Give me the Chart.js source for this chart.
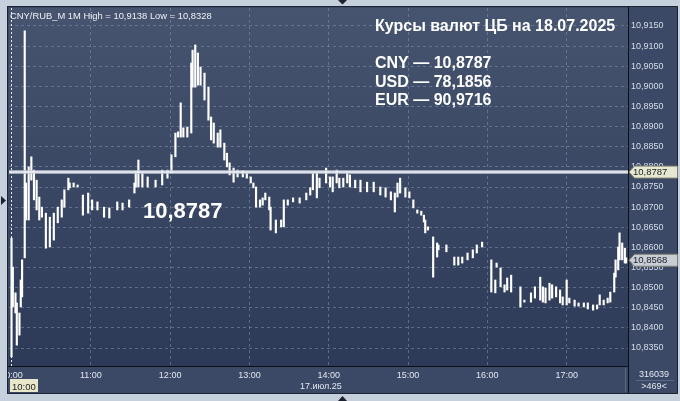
<!DOCTYPE html>
<html lang="ru">
  <head>
    <meta charset="UTF-8" />
    <title>CNY/RUB_M 1M</title>
    <style>
      html, body { margin: 0; padding: 0; background: #c6d0dc; overflow: hidden; }
      .container { width: 680px; height: 401px; }
    </style>
  </head>
  <body>
    <div class="container">
      <canvas id="myChart" width="680" height="401"></canvas>
    </div>
    <script src="https://cdn.jsdelivr.net/npm/chart.js@4.4.1/dist/chart.umd.min.js"></script>
    <script>
      // minute bars, minutes from 10:00
      const barMinutes = [0, 1, 3, 4, 6, 7, 8, 10, 11, 13, 15, 17, 19, 21, 23, 26, 29, 32, 35, 38,
        40, 43, 44, 47, 50, 54, 58, 61, 65, 70, 74, 80, 84, 89, 93, 94, 96, 99, 103, 109,
        114, 118, 121, 124, 126, 128, 130, 133, 136, 137, 139, 141, 143, 146, 149, 151, 153, 156, 158, 161,
        163, 165, 168, 171, 175, 178, 181, 183, 185, 188, 190, 192, 195, 196, 200, 204, 206, 209, 213, 218,
        223, 226, 228, 231, 233, 238, 241, 243, 246, 248, 251, 254, 256, 260, 264, 269, 274, 279, 283, 287,
        290, 292, 294, 298, 301, 304, 307, 310, 312, 313, 315, 319, 322, 323, 329, 335, 338, 341, 345, 349,
        352, 356, 363, 366, 367, 370, 373, 375, 378, 385, 388, 393, 396, 400, 402, 404, 407, 409, 412, 415,
        417, 420, 422, 426, 429, 433, 436, 440, 443, 445, 448, 451, 453, 456, 457, 459, 460, 462, 464, 465];
      const barHighs = [10.8623, 10.8551, 10.8487, 10.8462, 10.8437, 10.8519, 10.8569, 10.9138, 10.8760, 10.8800,
        10.8825, 10.8792, 10.8767, 10.8725, 10.8700, 10.8685, 10.8675, 10.8685, 10.8700, 10.8718,
        10.8743, 10.8772, 10.8760, 10.8760, 10.8755, 10.8730, 10.8735, 10.8718, 10.8713, 10.8700,
        10.8698, 10.8713, 10.8710, 10.8718, 10.8760, 10.8787, 10.8817, 10.8785, 10.8775, 10.8767,
        10.8792, 10.8792, 10.8830, 10.8884, 10.8887, 10.8959, 10.8897, 10.8899, 10.9058, 10.9090,
        10.9103, 10.9083, 10.9048, 10.9033, 10.8998, 10.8924, 10.8909, 10.8884, 10.8892, 10.8859,
        10.8834, 10.8810, 10.8797, 10.8792, 10.8790, 10.8785, 10.8775, 10.8760, 10.8750, 10.8718,
        10.8723, 10.8735, 10.8725, 10.8700, 10.8668, 10.8668, 10.8718, 10.8718, 10.8723, 10.8723,
        10.8735, 10.8748, 10.8785, 10.8785, 10.8772, 10.8797, 10.8775, 10.8775, 10.8792, 10.8772,
        10.8772, 10.8787, 10.8780, 10.8767, 10.8767, 10.8762, 10.8762, 10.8750, 10.8748, 10.8738,
        10.8735, 10.8760, 10.8772, 10.8748, 10.8738, 10.8718, 10.8693, 10.8690, 10.8680, 10.8668,
        10.8651, 10.8626, 10.8611, 10.8606, 10.8606, 10.8576, 10.8576, 10.8576, 10.8586, 10.8594,
        10.8606, 10.8613, 10.8569, 10.8519, 10.8561, 10.8549, 10.8507, 10.8524, 10.8531, 10.8502,
        10.8469, 10.8487, 10.8502, 10.8526, 10.8502, 10.8499, 10.8511, 10.8507, 10.8502, 10.8494,
        10.8477, 10.8519, 10.8474, 10.8469, 10.8462, 10.8462, 10.8462, 10.8457, 10.8457, 10.8482,
        10.8469, 10.8474, 10.8489, 10.8536, 10.8569, 10.8601, 10.8636, 10.8611, 10.8598, 10.8574];
      const barLows = [10.8328, 10.8452, 10.8437, 10.8357, 10.8382, 10.8452, 10.8477, 10.8574, 10.8668, 10.8668,
        10.8767, 10.8718, 10.8693, 10.8668, 10.8675, 10.8598, 10.8601, 10.8618, 10.8661, 10.8675,
        10.8700, 10.8743, 10.8748, 10.8750, 10.8750, 10.8680, 10.8685, 10.8693, 10.8693, 10.8675,
        10.8673, 10.8693, 10.8693, 10.8700, 10.8735, 10.8750, 10.8750, 10.8750, 10.8750, 10.8750,
        10.8755, 10.8772, 10.8785, 10.8825, 10.8874, 10.8874, 10.8874, 10.8874, 10.8884, 10.8998,
        10.8998, 10.9003, 10.9003, 10.8966, 10.8916, 10.8867, 10.8859, 10.8849, 10.8849, 10.8817,
        10.8800, 10.8780, 10.8762, 10.8775, 10.8775, 10.8772, 10.8760, 10.8748, 10.8700, 10.8700,
        10.8705, 10.8718, 10.8693, 10.8643, 10.8636, 10.8651, 10.8651, 10.8705, 10.8713, 10.8710,
        10.8718, 10.8730, 10.8743, 10.8723, 10.8748, 10.8760, 10.8750, 10.8738, 10.8760, 10.8748,
        10.8750, 10.8760, 10.8750, 10.8748, 10.8738, 10.8738, 10.8738, 10.8730, 10.8725, 10.8718,
        10.8688, 10.8725, 10.8735, 10.8725, 10.8723, 10.8698, 10.8685, 10.8680, 10.8663, 10.8636,
        10.8643, 10.8526, 10.8576, 10.8594, 10.8589, 10.8556, 10.8556, 10.8561, 10.8569, 10.8574,
        10.8586, 10.8601, 10.8489, 10.8487, 10.8551, 10.8502, 10.8489, 10.8494, 10.8489, 10.8452,
        10.8464, 10.8464, 10.8474, 10.8469, 10.8464, 10.8462, 10.8469, 10.8474, 10.8477, 10.8462,
        10.8457, 10.8457, 10.8462, 10.8454, 10.8454, 10.8452, 10.8447, 10.8444, 10.8447, 10.8457,
        10.8457, 10.8462, 10.8464, 10.8489, 10.8526, 10.8544, 10.8569, 10.8569, 10.8561, 10.8561];

      const priceTicks = [10.835, 10.84, 10.845, 10.85, 10.855, 10.86, 10.865, 10.87, 10.875,
        10.88, 10.885, 10.89, 10.895, 10.9, 10.905, 10.91, 10.915];
      const timeTicks = [0, 60, 120, 180, 240, 300, 360, 420];
      const timeLabels = ['10:00', '11:00', '12:00', '13:00', '14:00', '15:00', '16:00', '17:00'];
      const dateLabel = '17.июл.25';

      const cbRate = 10.8787;
      const lastPrice = 10.8568;
      const ratesTitle = 'Курсы валют ЦБ на 18.07.2025';
      const rateNames = ['CNY', 'USD', 'EUR'];
      const rateValues = ['10,8787', '78,1856', '90,9716'];
      const volumeText = '316039';
      const countText = '>469<';

      const FONT = '"Liberation Sans", Arial, sans-serif';
      const fmt = (v) => v.toFixed(4).replace('.', ',');

      function priceTag(ctx, y, text, fill) {
        ctx.beginPath();
        ctx.moveTo(629, y);
        ctx.lineTo(634.5, y - 6);
        ctx.lineTo(677.5, y - 6);
        ctx.lineTo(677.5, y + 6);
        ctx.lineTo(634.5, y + 6);
        ctx.closePath();
        ctx.fillStyle = fill;
        ctx.fill();
        ctx.strokeStyle = '#7d8270';
        ctx.lineWidth = 1;
        ctx.stroke();
        ctx.fillStyle = '#1a1e26';
        ctx.font = '9.5px ' + FONT;
        ctx.textBaseline = 'middle';
        ctx.textAlign = 'left';
        ctx.fillText(text, 633, y + 0.5);
      }

      const decor = {
        id: 'decor',
        beforeDraw(chart) {
          const { ctx, chartArea: a, width, height } = chart;
          ctx.save();
          ctx.fillStyle = '#c6d0dc';
          ctx.fillRect(0, 0, width, height);
          ctx.fillStyle = '#3b4966';
          ctx.fillRect(8, 7, 670, 386);
          const g = ctx.createLinearGradient(0, a.top, 0, a.bottom);
          g.addColorStop(0, '#46546f');
          g.addColorStop(1, '#2c3a58');
          ctx.fillStyle = g;
          ctx.fillRect(a.left, a.top, a.right - a.left, a.bottom - a.top);
          ctx.restore();
        },
        beforeDatasetsDraw(chart) {
          const { ctx, chartArea: a, scales } = chart;
          const x0 = Math.round(scales.x.getPixelForValue(0)) - 0.5;
          ctx.save();
          ctx.strokeStyle = '#e6ebf2';
          ctx.lineWidth = 1;
          ctx.setLineDash([2, 2]);
          ctx.beginPath();
          ctx.moveTo(x0, a.top);
          ctx.lineTo(x0, a.bottom);
          ctx.stroke();
          ctx.restore();
        },
        afterDatasetsDraw(chart) {
          const { ctx, chartArea: a, scales } = chart;
          const y = scales.y.getPixelForValue(cbRate);
          ctx.save();
          ctx.strokeStyle = 'rgba(190,198,212,0.75)';
          ctx.lineWidth = 4;
          ctx.beginPath();
          ctx.moveTo(a.left, y);
          ctx.lineTo(a.right, y);
          ctx.stroke();
          ctx.strokeStyle = '#f4f6f8';
          ctx.lineWidth = 1.5;
          ctx.stroke();
          ctx.restore();
        },
        afterDraw(chart) {
          const { ctx, scales } = chart;
          ctx.save();
          // frame strip over clipped label
          ctx.fillStyle = '#c6d0dc';
          ctx.fillRect(0, 360, 7.5, 41);
          // outline and separators
          ctx.strokeStyle = '#1c2434';
          ctx.lineWidth = 1;
          ctx.strokeRect(7.5, 6.5, 670, 387);
          ctx.strokeStyle = '#0c1018';
          ctx.beginPath();
          ctx.moveTo(628.5, 7);
          ctx.lineTo(628.5, 393);
          ctx.moveTo(8, 366.5);
          ctx.lineTo(628, 366.5);
          ctx.stroke();
          ctx.strokeStyle = '#5a6882';
          ctx.beginPath();
          ctx.moveTo(625.5, 368);
          ctx.lineTo(625.5, 392);
          ctx.moveTo(636, 380.5);
          ctx.lineTo(674, 380.5);
          ctx.stroke();

          // price tags
          priceTag(ctx, scales.y.getPixelForValue(cbRate), fmt(cbRate), '#e6e9cf');
          priceTag(ctx, scales.y.getPixelForValue(lastPrice), fmt(lastPrice), '#c9cdd6');

          // 10:00 session tag
          ctx.fillStyle = '#e9e7c9';
          ctx.fillRect(10, 379, 28, 13);
          ctx.fillStyle = '#1a1e26';
          ctx.font = '9.5px ' + FONT;
          ctx.textBaseline = 'alphabetic';
          ctx.textAlign = 'left';
          ctx.fillText(timeLabels[0], 12, 389.5);

          ctx.fillStyle = '#e3e8ef';
          ctx.font = '9px ' + FONT;
          ctx.fillText(dateLabel, 300, 389);
          ctx.textAlign = 'center';
          ctx.fillText(volumeText, 654, 377);
          ctx.fillText(countText, 654, 389);

          // header
          ctx.textAlign = 'left';
          ctx.fillStyle = '#eef1f5';
          ctx.font = '9.4px ' + FONT;
          const hi = Math.max(...barHighs);
          const lo = Math.min(...barLows);
          ctx.fillText('CNY/RUB_M 1M High = ' + fmt(hi) + ' Low = ' + fmt(lo), 10, 18.5);

          // CB rates block
          ctx.fillStyle = '#ffffff';
          ctx.font = 'bold 16px ' + FONT;
          ctx.fillText(ratesTitle, 375, 31);
          const baselines = [68, 86.5, 105];
          rateNames.forEach((n, i) => {
            ctx.fillText(n + ' \u2014 ' + rateValues[i], 375, baselines[i]);
          });
          ctx.font = 'bold 22px ' + FONT;
          ctx.fillText(fmt(cbRate), 143, 217.5);

          // scroll markers
          ctx.fillStyle = '#1c2230';
          ctx.beginPath();
          ctx.moveTo(338, 0); ctx.lineTo(347, 0); ctx.lineTo(342.5, 4.5); ctx.closePath();
          ctx.moveTo(338, 401); ctx.lineTo(347, 401); ctx.lineTo(342.5, 396); ctx.closePath();
          ctx.moveTo(1, 196); ctx.lineTo(1, 205); ctx.lineTo(6, 200.5); ctx.closePath();
          ctx.fill();
          ctx.restore();
        },
      };

      const gridColor = 'rgba(128,146,176,0.55)';
      const data = {
        datasets: [
          {
            label: 'CNY/RUB_M',
            data: barMinutes.map((m, i) => ({ x: m, y: [barLows[i], barHighs[i]] })),
            backgroundColor: '#ffffff',
            borderWidth: 0,
            barThickness: 1.5,
            minBarLength: 1,
          },
        ],
      };

      const config = {
        type: 'bar',
        data: data,
        options: {
          animation: false,
          responsive: false,
          devicePixelRatio: 1,
          layout: { autoPadding: false, padding: { left: 9, top: 8, right: 3, bottom: 8 } },
          plugins: {
            legend: { display: false },
            tooltip: { enabled: false },
            title: { display: false },
          },
          scales: {
            x: {
              type: 'linear',
              min: -1.9,
              max: 466.4,
              offset: false,
              afterFit: (s) => {
                s.height = 27;
                s.paddingLeft = 0;
                s.paddingRight = 0;
              },
              afterBuildTicks: (s) => { s.ticks = timeTicks.map((v) => ({ value: v })); },
              grid: {
                offset: false,
                drawTicks: false,
                color: (c) => (c.tick && c.tick.value === 0 ? 'rgba(0,0,0,0)' : gridColor),
                lineWidth: 1,
              },
              border: { display: false, dash: [3, 3] },
              ticks: {
                autoSkip: false,
                maxRotation: 0,
                padding: 4,
                color: '#e3e8ef',
                font: { family: FONT, size: 9 },
                callback: (v) => timeLabels[timeTicks.indexOf(v)],
              },
            },
            y: {
              type: 'linear',
              position: 'right',
              min: 10.83053,
              max: 10.91947,
              beginAtZero: false,
              afterFit: (s) => {
                s.width = 49;
                s.paddingTop = 0;
                s.paddingBottom = 0;
              },
              afterBuildTicks: (s) => { s.ticks = priceTicks.map((v) => ({ value: v })); },
              grid: { drawTicks: false, color: gridColor, lineWidth: 1 },
              border: { display: false, dash: [3, 3] },
              ticks: {
                padding: 3,
                color: '#d6dde8',
                font: { family: FONT, size: 9 },
                callback: (v) => fmt(v),
              },
            },
          },
        },
        plugins: [decor],
      };

      const myChart = new Chart(document.getElementById('myChart'), config);
    </script>
  </body>
</html>
